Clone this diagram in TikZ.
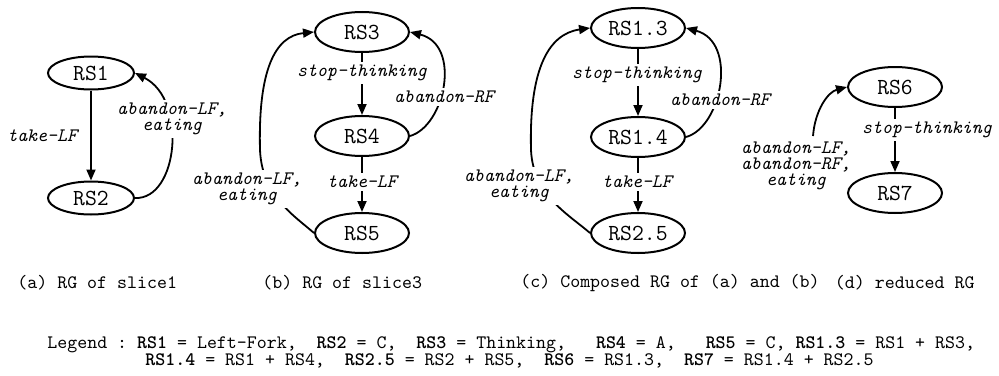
\documentclass[tikz,border=0pt]{standalone}
\usepackage{fontspec}
\usetikzlibrary{arrows.meta,shapes.geometric}
\tikzset{
  state/.style={ellipse, draw, line width=1pt, minimum width=47pt, minimum height=20pt,
    inner sep=0pt, font=\ttfamily\fontsize{11.5}{12}\selectfont},
  smallstate/.style={state, minimum width=43pt, minimum height=16.5pt},
  arr/.style={line width=0.9pt, -{Triangle[length=5.5pt,width=4.5pt]}},
  lbl/.style={font=\ttfamily\itshape\fontsize{9.5}{8}\selectfont, align=center, inner sep=1.5pt},
  gaplbl/.style={lbl, fill=white},
  captext/.style={font=\ttfamily\fontsize{9.5}{10}\selectfont, anchor=west, inner sep=0pt},
}
\begin{document}
\begin{tikzpicture}[x=0.5pt, y=-0.5pt]
\useasboundingbox (0,0) rectangle (999,375);

% ---------- (a) RG of slice1
\node[smallstate] (RS1) at (91,73) {RS1};
\node[smallstate] (RS2) at (91,198) {RS2};
\draw[arr] (RS1) -- (RS2) node[lbl, midway, left=5pt] (la1) {take-LF};
\draw[arr] (RS2.east) .. controls (178,200) and (188,100) .. (RS1.east);
\node[gaplbl] (la2) at (172,119) {abandon-LF,\\eating};

% ---------- (b) RG of slice3
\node[state] (RS3) at (362,32) {RS3};
\node[state] (RS4) at (362,136) {RS4};
\node[state] (RS5) at (362,233) {RS5};
\draw[arr] (RS3) -- (RS4);
\node[gaplbl] (lb1) at (362,73) {stop-thinking};
\draw[arr] (RS4) -- (RS5);
\node[gaplbl] (lb2) at (362,182) {take-LF};
\draw[arr] (RS4.east) .. controls (445,126) and (462,45) .. (RS3.east);
\node[gaplbl] (lb3) at (444,97) {abandon-RF};
\draw[arr] (RS5.west) .. controls (292,214) and (262,195) .. (260,150)
  .. controls (258,70) and (275,36) .. (RS3.west);
\node[gaplbl] (lb4) at (247,189) {abandon-LF,\\eating};

% ---------- (c) composed RG of (a) and (b)
\node[state] (RS13) at (638,28) {RS1.3};
\node[state] (RS14) at (638,137) {RS1.4};
\node[state] (RS25) at (638,233) {RS2.5};
\draw[arr] (RS13) -- (RS14);
\node[gaplbl] (lc1) at (637,75) {stop-thinking};
\draw[arr] (RS14) -- (RS25);
\node[gaplbl] (lc2) at (637,182) {take-LF};
\draw[arr] (RS14.east) .. controls (722,127) and (738,42) .. (RS13.east);
\node[gaplbl] (lc3) at (720,100) {abandon-RF};
\draw[arr] (RS25.west) .. controls (568,214) and (533,195) .. (531,150)
  .. controls (529,70) and (548,34) .. (RS13.west);
\node[gaplbl] (lc4) at (519,186) {abandon-LF,\\eating};

% ---------- (d) reduced RG
\node[state] (RS6) at (895,87) {RS6};
\node[state] (RS7) at (895,193) {RS7};
\draw[arr] (RS6) -- (RS7);
\node[gaplbl] (ld1) at (927,130) {stop-thinking};
\node[lbl] (ld2) at (796,166) {abandon-LF,\\abandon-RF,\\eating};
\coordinate (ld0) at (813,136);
\draw[arr] (ld0) .. controls (815,110) and (828,92) .. (RS6.west);

% ---------- captions
\node[captext] (capa) at (17,283) {(a) RG of slice1};
\node[captext] (capb) at (262,283) {(b) RG of slice3};
\node[captext] (capc) at (520,283) {(c) Composed RG of (a) and (b)};
\node[captext, anchor=east] (capd) at (975,283) {(d) reduced RG};

% ---------- legend
\node[captext] (leg1) at (47,345) {Legend :~\textbf{RS1} = Left-Fork,~~\textbf{RS2} = C,~~\textbf{RS3} = Thinking,~~~\textbf{RS4} = A,~~~\textbf{RS5} = C, \textbf{RS1.3} = RS1 + RS3,};
\node[captext] (leg2) at (145,361) {\textbf{RS1.4} = RS1 + RS4,~~\textbf{RS2.5} = RS2 + RS5,~~\textbf{RS6} = RS1.3,~~\textbf{RS7} = RS1.4 + RS2.5};
\end{tikzpicture}
\end{document}
